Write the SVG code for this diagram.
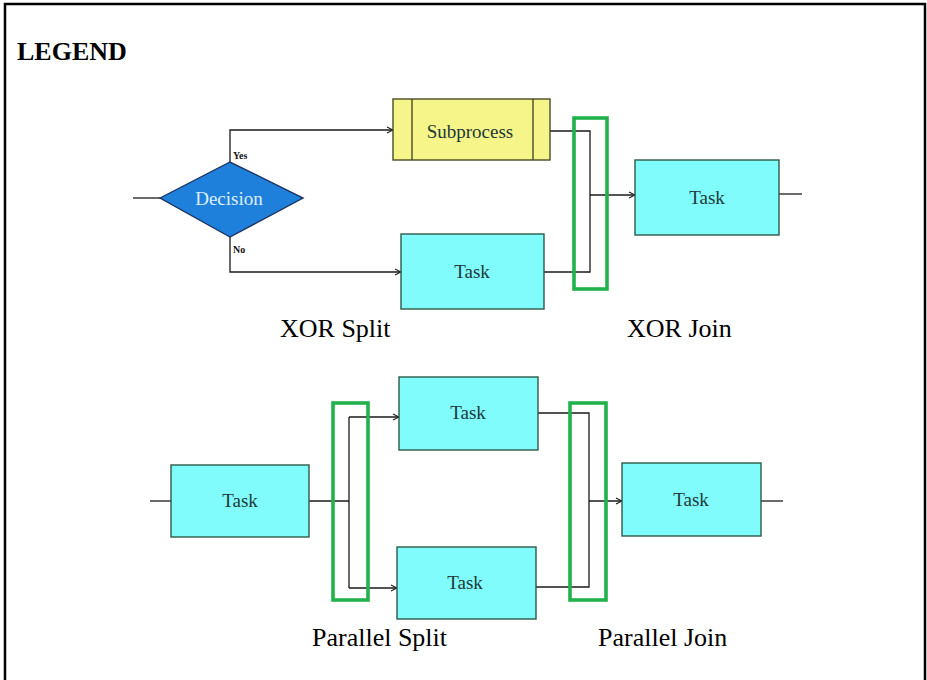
<svg xmlns="http://www.w3.org/2000/svg" width="927" height="680" viewBox="0 0 927 680">
  <style>
    .frame { fill: #ffffff; stroke: #000000; stroke-width: 2.5; }
    .task { fill: #80fcfc; stroke: #2e5a48; stroke-width: 1.4; }
    .sub { fill: #f6f58a; stroke: #4a4a28; stroke-width: 1.4; }
    .dec { fill: #1f80dc; stroke: #1c3460; stroke-width: 1.4; }
    .gate { fill: none; stroke: #22b24c; stroke-width: 3.6; }
    .wire { fill: none; stroke: #1a1a1a; stroke-width: 1.3; }
    .lbl { font-family: "Liberation Serif", "Times New Roman", serif; font-size: 19px; fill: #1d3838; text-anchor: middle; }
    .cap { font-family: "Liberation Serif", "Times New Roman", serif; font-size: 26px; fill: #000000; }
    .tiny { font-family: "Liberation Serif", "Times New Roman", serif; font-size: 10px; font-weight: bold; fill: #111111; }
  </style>
  <defs>
    <marker id="arrow" viewBox="0 0 8 8" refX="7" refY="4" markerWidth="8" markerHeight="8" markerUnits="userSpaceOnUse" orient="auto">
      <path d="M1,1 L7,4 L1,7" fill="none" stroke="#1a1a1a" stroke-width="1.1"/>
    </marker>
  </defs>

  <rect class="frame" x="5" y="4" width="920" height="690"/>
  <text class="cap" x="17" y="60" font-weight="bold">LEGEND</text>

  <!-- connectors -->
  <g id="connectors">
    <!-- XOR split -->
    <path class="wire" d="M133,198 H160"/>
    <path class="wire" d="M230,162 V130 H393" marker-end="url(#arrow)"/>
    <path class="wire" d="M230,237 V272 H401" marker-end="url(#arrow)"/>
    <!-- XOR join -->
    <path class="wire" d="M550,131 H590 V272 H544"/>
    <path class="wire" d="M590,195 H635" marker-end="url(#arrow)"/>
    <path class="wire" d="M779,194 H802"/>
    <!-- parallel split -->
    <path class="wire" d="M150,501 H171"/>
    <path class="wire" d="M309,501 H349"/>
    <path class="wire" d="M349,417 V588"/>
    <path class="wire" d="M349,417 H399" marker-end="url(#arrow)"/>
    <path class="wire" d="M349,588 H397" marker-end="url(#arrow)"/>
    <!-- parallel join -->
    <path class="wire" d="M538,413 H589 V587 H536"/>
    <path class="wire" d="M589,501 H622" marker-end="url(#arrow)"/>
    <path class="wire" d="M761,501 H783"/>
  </g>

  <!-- XOR split -->
  <g id="decision">
    <polygon class="dec" points="160,198 230,162 303,198 230,237"/>
    <text class="lbl" x="229" y="205" fill="#dcefff" style="fill:#dcefff">Decision</text>
    <text class="tiny" x="233" y="159">Yes</text>
    <text class="tiny" x="233" y="253">No</text>
  </g>
  <g id="subprocess">
    <rect class="sub" x="393" y="99" width="157" height="61"/>
    <line class="sub" x1="412" y1="99" x2="412" y2="160"/>
    <line class="sub" x1="533" y1="99" x2="533" y2="160"/>
    <text class="lbl" x="470" y="138">Subprocess</text>
  </g>
  <g id="xor-task-b">
    <rect class="task" x="401" y="234" width="143" height="75"/>
    <text class="lbl" x="472" y="278">Task</text>
  </g>
  <g id="xor-join">
    <rect class="gate" x="574" y="118" width="33" height="171"/>
  </g>
  <g id="xor-task-out">
    <rect class="task" x="635" y="160" width="144" height="75"/>
    <text class="lbl" x="707" y="204">Task</text>
  </g>
  <text class="cap" x="280" y="337">XOR Split</text>
  <text class="cap" x="627" y="337">XOR Join</text>

  <!-- parallel -->
  <g id="par-task-in">
    <rect class="task" x="171" y="465" width="138" height="72"/>
    <text class="lbl" x="240" y="507">Task</text>
  </g>
  <g id="par-split">
    <rect class="gate" x="333" y="403" width="35" height="197"/>
  </g>
  <g id="par-task-a">
    <rect class="task" x="399" y="377" width="139" height="73"/>
    <text class="lbl" x="468" y="419">Task</text>
  </g>
  <g id="par-task-b">
    <rect class="task" x="397" y="547" width="139" height="72"/>
    <text class="lbl" x="465" y="589">Task</text>
  </g>
  <g id="par-join">
    <rect class="gate" x="570" y="403" width="36" height="197"/>
  </g>
  <g id="par-task-out">
    <rect class="task" x="622" y="463" width="139" height="73"/>
    <text class="lbl" x="691" y="506">Task</text>
  </g>
  <text class="cap" x="312" y="646">Parallel Split</text>
  <text class="cap" x="598" y="646">Parallel Join</text>
</svg>
